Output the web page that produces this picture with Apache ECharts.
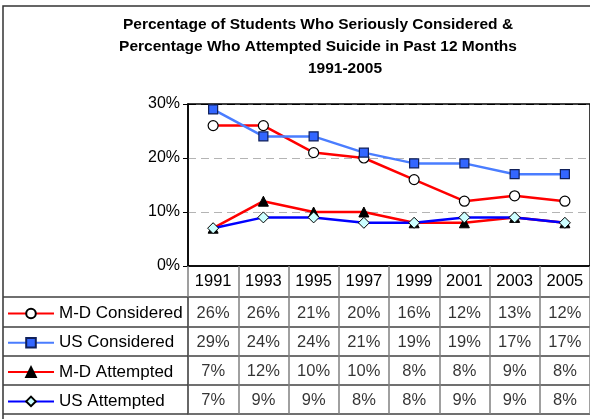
<!DOCTYPE html>
<html>
<head>
<meta charset="utf-8">
<script src="https://cdn.jsdelivr.net/npm/echarts@6/dist/echarts.min.js"></script>
<style>
html,body{margin:0;padding:0;background:#fff;}
#c{width:590px;height:419px;}
</style>
</head>
<body>
<div id="c"></div>
<script>
const years = ['1991','1993','1995','1997','1999','2001','2003','2005'];
const mdConsidered = [26,26,21,20,16,12,13,12];
const usConsidered = [29,24,24,21,19,19,17,17];
const mdAttempted = [7,12,10,10,8,8,9,8];
const usAttempted = [7,9,9,8,8,9,9,8];
const seriesNames = ['M-D Considered','US Considered','M-D Attempted','US Attempted'];
const yTickValues = [0,10,20,30];

const FONT = 'Liberation Sans, Arial, Helvetica, sans-serif';
const rows = [mdConsidered, usConsidered, mdAttempted, usAttempted];
const tableData = [];
rows.forEach((vals, r) => vals.forEach((v, c) => tableData.push([c, r, v])));

const chart = echarts.init(document.getElementById('c'), null, {renderer:'canvas'});
chart.setOption({
  animation: false,
  backgroundColor: '#fff',
  textStyle: {fontFamily: FONT},
  graphic: [{
    type: 'rect', z: -10, silent: true,
    shape: {x: 3, y: 6, width: 620, height: 440},
    style: {fill: 'none', stroke: '#333', lineWidth: 1.5}
  }],
  title: [{
    text: 'Percentage of Students Who Seriously Considered &\nPercentage Who Attempted Suicide in Past 12 Months',
    left: 318, top: 14, textAlign: 'center', padding: 0,
    textStyle: {fontFamily: FONT, fontWeight: 'bold', fontSize: 15.5, lineHeight: 22, color: '#000'}
  },{
    text: '1991-2005',
    left: 345, top: 58, textAlign: 'center', padding: 0,
    textStyle: {fontFamily: FONT, fontWeight: 'bold', fontSize: 15.5, lineHeight: 22, color: '#000'}
  }],
  legend: {
    data: seriesNames,
    orient: 'vertical',
    left: 7, top: 305,
    itemWidth: 46, itemHeight: 12, itemGap: 12.3,
    padding: 0,
    textStyle: {fontFamily: FONT, fontSize: 17, color: '#000', lineHeight: 16}
  },
  grid: [
    {left: 188, top: 104, width: 411, height: 162, show: true, borderColor: '#000', borderWidth: 1.5, backgroundColor: 'transparent'},
    {left: 188, top: 297, width: 411, height: 117}
  ],
  xAxis: [{
    gridIndex: 0, type: 'category', data: years, boundaryGap: true,
    axisLine: {lineStyle: {color: '#000', width: 1.5}},
    axisTick: {show: true, interval: 0, length: 31, lineStyle: {color: '#808080', width: 1.5}},
    axisLabel: {interval: 0, margin: 7, fontSize: 16.5, color: '#000', fontFamily: FONT},
    splitLine: {show: false}
  },{
    gridIndex: 1, type: 'category', data: years, boundaryGap: true,
    axisLine: {show: false}, axisTick: {show: false}, axisLabel: {show: false},
    splitLine: {show: true, interval: 0, lineStyle: {color: '#808080', width: 1.5}}
  }],
  yAxis: [{
    gridIndex: 0, type: 'value', min: 0, max: 30, interval: 10,
    axisLine: {show: true, lineStyle: {color: '#000', width: 1.5}},
    axisTick: {show: true, length: 5, lineStyle: {color: '#000'}},
    axisLabel: {formatter: '{value}%', fontSize: 16, color: '#000', margin: 8, fontFamily: FONT},
    splitLine: {show: true, lineStyle: {color: ['transparent','#b4b4b4','#b4b4b4','#000'], type: [8,5], width: 1}}
  },{
    gridIndex: 1, type: 'category', data: seriesNames, inverse: true, boundaryGap: true,
    axisLine: {show: true, lineStyle: {color: '#555', width: 1.5}},
    axisTick: {show: true, interval: 0, length: 185, lineStyle: {color: '#404040', width: 1.5}},
    axisLabel: {show: false},
    splitLine: {show: true, interval: 0, lineStyle: {color: '#404040', width: 1.5}}
  }],
  series: [{
    name: seriesNames[0], type: 'line', data: mdConsidered,
    xAxisIndex: 0, yAxisIndex: 0,
    lineStyle: {color: '#ff0000', width: 2.5},
    symbol: 'circle', symbolSize: 10,
    itemStyle: {color: '#ffffff', borderColor: '#000', borderWidth: 1.2}
  },{
    name: seriesNames[1], type: 'line', data: usConsidered,
    xAxisIndex: 0, yAxisIndex: 0,
    lineStyle: {color: '#4a7dff', width: 2.5},
    symbol: 'rect', symbolSize: 9,
    itemStyle: {color: '#3366ff', borderColor: '#10205a', borderWidth: 1.2}
  },{
    name: seriesNames[2], type: 'line', data: mdAttempted,
    xAxisIndex: 0, yAxisIndex: 0,
    lineStyle: {color: '#ff0000', width: 2.5},
    symbol: 'triangle', symbolSize: 10,
    itemStyle: {color: '#000', borderColor: '#000', borderWidth: 1}
  },{
    name: seriesNames[3], type: 'line', data: usAttempted,
    xAxisIndex: 0, yAxisIndex: 0,
    lineStyle: {color: '#0000ff', width: 2.5},
    symbol: 'diamond', symbolSize: 11,
    itemStyle: {color: '#ccffff', borderColor: '#000', borderWidth: 1}
  },{
    name: 'table', type: 'scatter', data: tableData,
    xAxisIndex: 1, yAxisIndex: 1,
    symbolSize: 0, silent: true,
    itemStyle: {color: 'transparent'},
    label: {show: true, position: 'inside', offset: [0, 1.5], formatter: p => p.value[2] + '%',
      fontSize: 16.5, color: '#000', fontFamily: FONT}
  }]
});
</script>
</body>
</html>
